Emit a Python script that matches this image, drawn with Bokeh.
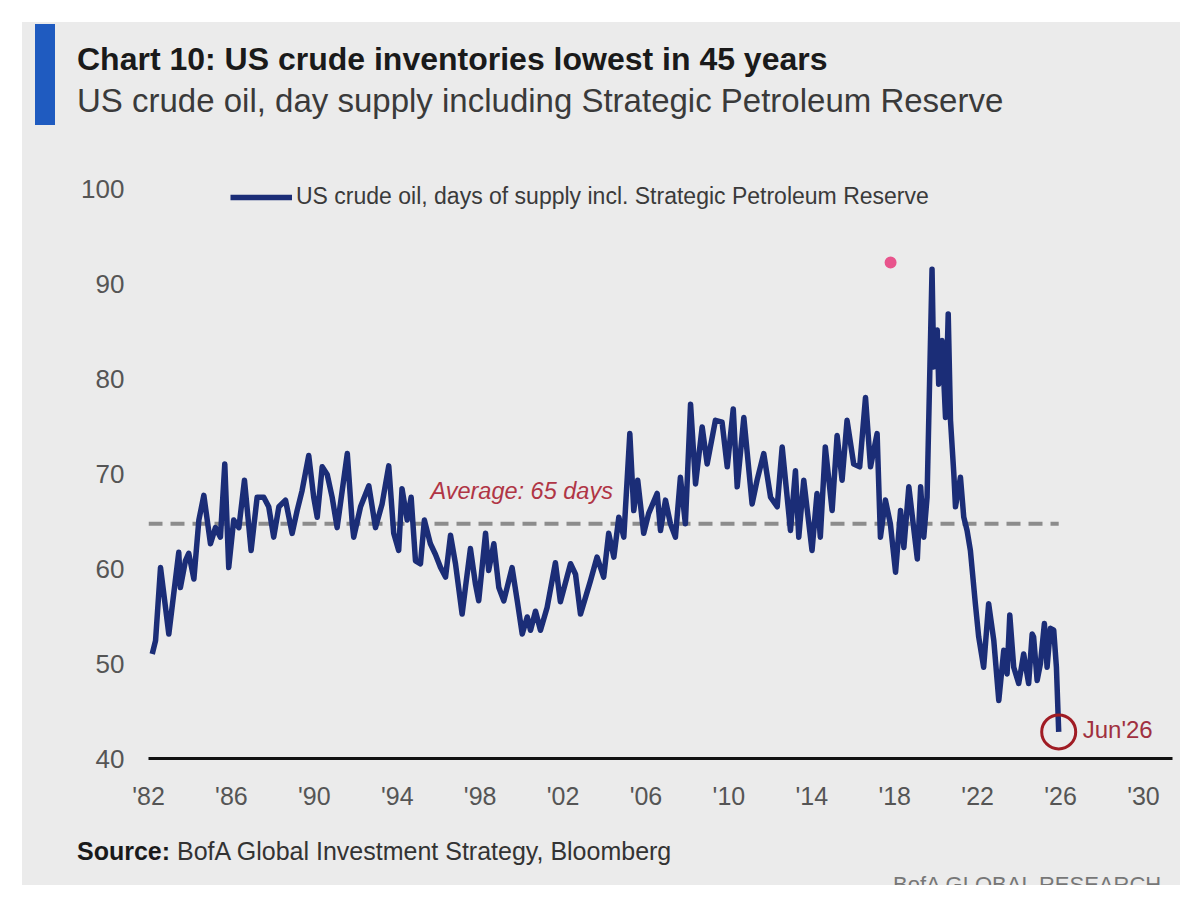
from bokeh.plotting import figure
from bokeh.models import Range1d, FixedTicker, Legend, LegendItem, Spacer, Div
from bokeh.layouts import column, row
from bokeh.core.properties import value
from bokeh.embed import file_html
from bokeh.resources import INLINE

# ---------------- data ----------------
years = [
    1982.18, 1982.34, 1982.58, 1982.82, 1982.98, 1983.46, 1983.54, 1983.78, 1983.94, 1984.19,
    1984.43, 1984.67, 1984.99, 1985.23, 1985.47, 1985.68, 1985.87, 1986.11, 1986.36, 1986.63,
    1986.95, 1987.24, 1987.56, 1987.80, 1988.04, 1988.29, 1988.61, 1988.93, 1989.17, 1989.41,
    1989.73, 1989.97, 1990.14, 1990.38, 1990.62, 1990.86, 1991.10, 1991.59, 1991.83, 1991.90,
    1992.23, 1992.63, 1992.95, 1993.27, 1993.59, 1993.83, 1994.07, 1994.23, 1994.48, 1994.67,
    1994.88, 1995.12, 1995.31, 1995.60, 1995.84, 1996.09, 1996.33, 1996.57, 1996.81, 1997.13,
    1997.29, 1997.53, 1997.77, 1997.93, 1998.26, 1998.41, 1998.66, 1998.90, 1999.14, 1999.54,
    1999.79, 2000.03, 2000.27, 2000.43, 2000.67, 2000.91, 2001.23, 2001.63, 2001.87, 2002.36,
    2002.60, 2002.84, 2003.32, 2003.64, 2003.96, 2004.20, 2004.45, 2004.69, 2004.93, 2005.22,
    2005.41, 2005.60, 2005.89, 2006.13, 2006.54, 2006.70, 2006.94, 2007.18, 2007.42, 2007.66,
    2007.90, 2008.15, 2008.39, 2008.71, 2008.95, 2009.35, 2009.67, 2009.92, 2010.21, 2010.40,
    2010.72, 2011.12, 2011.36, 2011.68, 2012.01, 2012.33, 2012.57, 2012.97, 2013.21, 2013.37,
    2013.61, 2014.01, 2014.25, 2014.41, 2014.65, 2014.98, 2015.22, 2015.46, 2015.70, 2016.02,
    2016.31, 2016.59, 2016.83, 2017.15, 2017.31, 2017.55, 2017.79, 2018.04, 2018.28, 2018.44,
    2018.68, 2019.09, 2019.25, 2019.40, 2019.56, 2019.80, 2019.88, 2020.05, 2020.12, 2020.28,
    2020.45, 2020.58, 2020.69, 2020.85, 2020.93, 2021.17, 2021.33, 2021.49, 2021.65, 2021.89,
    2022.05, 2022.29, 2022.53, 2022.78, 2023.02, 2023.26, 2023.42, 2023.55, 2023.74, 2023.98,
    2024.22, 2024.46, 2024.63, 2024.70, 2024.87, 2025.03, 2025.22, 2025.35, 2025.51, 2025.67,
    2025.80, 2025.91,
]
days_supply = [
    51.0, 52.4, 60.1, 55.9, 53.1, 61.7, 58.0, 60.8, 61.6, 58.9,
    65.1, 67.7, 62.6, 64.3, 63.3, 71.0, 60.1, 65.1, 64.3, 69.3,
    61.9, 67.5, 67.5, 66.5, 63.3, 66.5, 67.2, 63.7, 66.1, 68.2,
    71.9, 67.5, 65.4, 70.7, 69.9, 67.5, 64.3, 72.1, 64.7, 63.3,
    66.5, 68.7, 64.3, 66.8, 70.8, 63.7, 61.9, 68.4, 65.1, 67.5,
    60.8, 60.5, 65.1, 62.6, 61.5, 60.1, 59.1, 63.5, 60.5, 55.2,
    58.0, 62.1, 58.4, 56.6, 63.7, 59.8, 62.6, 58.0, 56.6, 60.1,
    56.6, 53.1, 54.9, 53.5, 55.5, 53.5, 55.9, 60.6, 56.5, 60.5,
    59.4, 55.2, 58.7, 61.2, 59.1, 63.7, 61.2, 65.4, 63.3, 74.2,
    66.1, 69.3, 63.7, 65.8, 67.9, 64.0, 67.2, 64.7, 63.3, 69.6,
    64.7, 77.3, 68.9, 74.9, 71.0, 75.6, 75.4, 70.7, 76.8, 68.6,
    75.9, 66.8, 69.3, 72.1, 67.5, 66.5, 72.8, 64.0, 70.3, 63.3,
    69.3, 61.9, 67.9, 63.3, 72.8, 66.1, 74.0, 69.3, 75.6, 71.0,
    70.7, 78.0, 70.7, 74.2, 63.3, 67.2, 64.7, 59.6, 66.1, 62.2,
    68.6, 61.0, 68.6, 63.3, 67.5, 91.5, 81.2, 85.1, 79.4, 84.0,
    75.9, 86.8, 75.6, 70.0, 66.5, 69.6, 65.4, 64.0, 61.9, 56.3,
    52.8, 49.6, 56.3, 52.4, 46.1, 51.4, 48.9, 55.1, 49.6, 47.9,
    51.0, 47.9, 53.1, 52.8, 48.2, 50.0, 54.2, 49.6, 53.7, 53.5,
    49.6, 42.8,
]
average_days = 64.7
average_text = "Average: 65 days"
last_label = "Jun'26"
marker_point = (2017.8, 92.2)   # small pink dot in the picture

y_ticks = [40, 50, 60, 70, 80, 90, 100]
x_ticks = [1982, 1986, 1990, 1994, 1998, 2002, 2006, 2010, 2014, 2018, 2022, 2026, 2030]
x_tick_labels = ["'82", "'86", "'90", "'94", "'98", "'02", "'06", "'10", "'14", "'18", "'22", "'26", "'30"]

title = "Chart 10: US crude inventories lowest in 45 years"
subtitle = "US crude oil, day supply including Strategic Petroleum Reserve"
series_name = "US crude oil, days of supply incl. Strategic Petroleum Reserve"
source_bold = "Source:"
source_rest = "BofA Global Investment Strategy, Bloomberg"
footer = "BofA GLOBAL RESEARCH"

# ---------------- styling ----------------
FONT = "Liberation Sans"
CARD = "#ebebeb"
NAVY = "#1b2d77"
W = 1158

header = Div(width=W, height=118, margin=0, styles={"background-color": CARD}, text=f"""
<div style="position:relative;width:{W}px;height:118px;overflow:hidden;font-family:'{FONT}';">
  <div style="position:absolute;left:13px;top:2px;width:20px;height:101px;background:#1f5bc0;"></div>
  <div style="position:absolute;left:55px;top:21px;font-size:32px;line-height:32px;font-weight:bold;
              color:#1a1a1a;white-space:nowrap;">{title}</div>
  <div style="position:absolute;left:55px;top:62px;font-size:33px;line-height:33px;
              color:#3a3a3a;white-space:nowrap;">{subtitle}</div>
</div>""")

footer_div = Div(width=W, height=65, margin=0, styles={"background-color": CARD}, text=f"""
<div style="position:relative;width:{W}px;height:65px;overflow:hidden;font-family:'{FONT}';">
  <div style="position:absolute;left:55px;top:19px;font-size:25px;line-height:25px;color:#333333;
              white-space:nowrap;"><b style="color:#1a1a1a;">{source_bold}</b> {source_rest}</div>
  <div style="position:absolute;left:871px;top:54px;font-size:22px;line-height:22px;color:#777777;
              white-space:nowrap;">{footer}</div>
</div>""")

p = figure(width=W, height=680, output_backend="svg", toolbar_location=None,
           x_range=Range1d(1982, 2031.4), y_range=Range1d(40, 40 + 584 / 9.5),
           min_border_left=126, min_border_right=8, min_border_top=34, min_border_bottom=62,
           background_fill_color=CARD, border_fill_color=CARD, outline_line_color=None)
p.grid.visible = False

# axes
p.yaxis.ticker = FixedTicker(ticks=y_ticks)
p.yaxis.axis_line_color = None
p.yaxis.major_tick_line_color = None
p.yaxis.minor_tick_line_color = None
p.yaxis.major_label_standoff = 18
p.yaxis.major_label_text_font = FONT
p.yaxis.major_label_text_font_size = "26px"
p.yaxis.major_label_text_color = "#555555"

p.xaxis.ticker = FixedTicker(ticks=x_ticks)
p.xaxis.major_label_overrides = {t: l for t, l in zip(x_ticks, x_tick_labels)}
p.xaxis.axis_line_color = "#111111"
p.xaxis.axis_line_width = 3
p.xaxis.major_tick_line_color = None
p.xaxis.minor_tick_line_color = None
p.xaxis.major_label_standoff = 17
p.xaxis.major_label_text_font = FONT
p.xaxis.major_label_text_font_size = "25px"
p.xaxis.major_label_text_color = "#555555"

# average line
p.line(x=[x_ticks[0], years[-1]], y=[average_days, average_days], line_color="#8c8c8c",
       line_width=4, line_dash="14 8")
p.text(x=[1995.6], y=[average_days], text=[average_text], y_offset=-33,
       text_font=value(FONT), text_font_style="italic", text_font_size="23.5px",
       text_color="#b03545", text_baseline="middle", text_align="left")

# main series
r = p.line(x=years, y=days_supply, line_color=NAVY, line_width=5.5, line_join="round")

# last point circle + label
p.scatter(x=[years[-1]], y=[days_supply[-1]], marker="circle", size=34, fill_color=None,
          line_color="#a01c24", line_width=3)
p.text(x=[years[-1]], y=[days_supply[-1]], text=[last_label], x_offset=24, y_offset=-2,
       text_font=value(FONT), text_font_size="24px", text_color="#a03040",
       text_baseline="middle", text_align="left")

# pink dot
p.scatter(x=[marker_point[0]], y=[marker_point[1]], marker="circle", size=12,
          fill_color="#e8548c", line_color=None)

# legend
legend = Legend(items=[LegendItem(label=series_name, renderers=[r])], location=(82, 548),
                background_fill_alpha=0, border_line_color=None, padding=0, margin=0,
                glyph_width=62, glyph_height=20, label_standoff=4,
                label_text_font=FONT, label_text_font_size="23px", label_text_color="#3a3a3a")
p.add_layout(legend)

card = column(header, p, footer_div, spacing=0, styles={"background-color": CARD})
layout = column(Spacer(height=22), row(Spacer(width=22), card))
open("out.html", "w").write(file_html(layout, INLINE))
